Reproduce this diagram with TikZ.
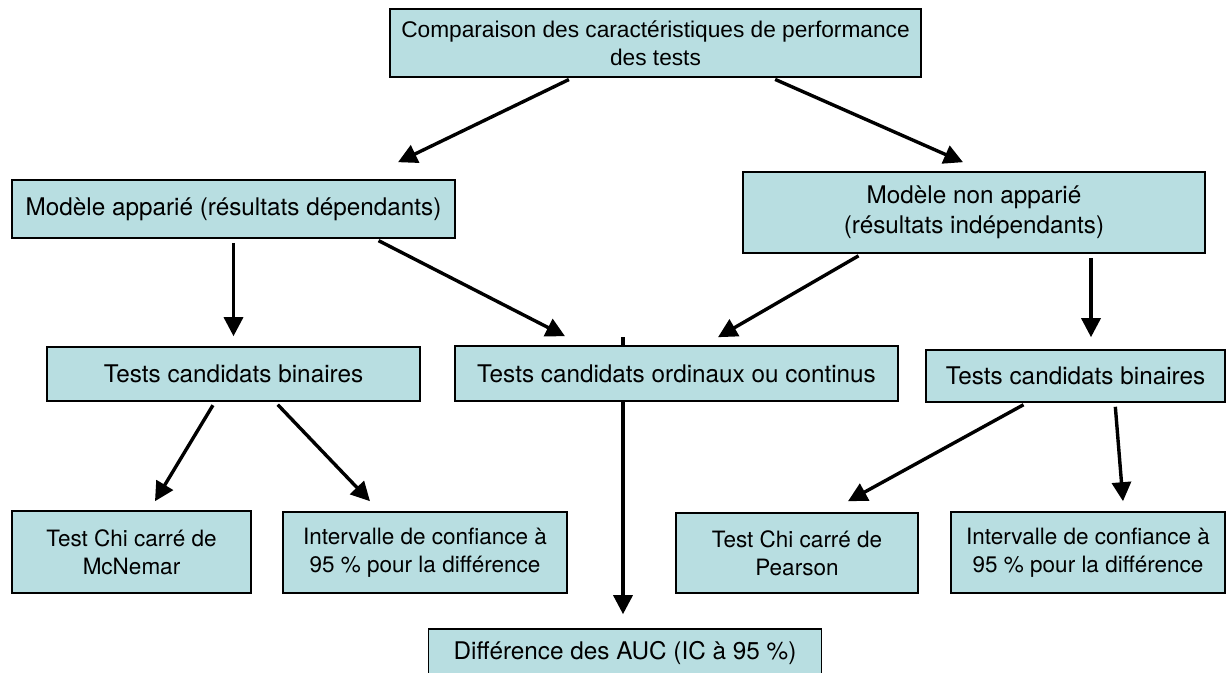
\documentclass[tikz,border=0pt]{standalone}
\usepackage{fontspec}
\setmainfont{Liberation Sans}
\newfontfamily\boxfont{TeX Gyre Heros}
\usepackage[HTML]{xcolor}
\usetikzlibrary{positioning, arrows.meta, backgrounds}
\definecolor{boxfill}{HTML}{B8DEE1}

\begin{document}
\begin{tikzpicture}[x=1pt, y=-1pt,
  box/.style={draw, line width=1.6pt, fill=boxfill, align=center, inner sep=0pt,
    font=\boxfont\fontsize{24.3}{30}\selectfont},
  smallbox/.style={box, font=\boxfont\fontsize{22.5}{28}\selectfont},
  arr/.style={-{Triangle[length=19pt, width=19pt]}, line width=3.4pt, shorten <=4pt}]
\useasboundingbox (0,0) rectangle (1230,672);
\clip (0,0) rectangle (1230,672);

\node[box, font=\fontsize{22.7}{28}\selectfont, minimum width=531pt, minimum height=68pt] (cmp) at (655.5,43)
  {Comparaison des caractéristiques de performance\\des tests};
\node[box, minimum width=443pt, minimum height=58pt] (app) at (233.5,209) {Modèle apparié (résultats dépendants)};
\node[box, minimum width=462pt, minimum height=81pt] (nonapp) at (974,212.5) {Modèle non apparié\\(résultats indépendants)};
\node[box, minimum width=373pt, minimum height=54pt] (binL) at (233.5,374) {Tests candidats binaires};
\node[box, minimum width=443pt, minimum height=55pt] (mid) at (676.5,373.5) {Tests candidats ordinaux ou continus};
\node[box, minimum width=299pt, minimum height=52pt] (binR) at (1075.5,376) {Tests candidats binaires};
\node[smallbox, minimum width=239pt, minimum height=82pt] (mcn) at (131.5,552) {Test Chi carré de\\McNemar};
\node[smallbox, minimum width=284pt, minimum height=81pt] (intL) at (425,552.5) {Intervalle de confiance à\\95 \% pour la différence};
\node[smallbox, minimum width=242pt, minimum height=80pt] (pear) at (797,553) {Test Chi carré de\\Pearson};
\node[smallbox, minimum width=274pt, minimum height=81pt] (intR) at (1088,552.5) {Intervalle de confiance à\\95 \% pour la différence};
\node[box, minimum width=393pt, minimum height=48pt] (auc) at (625,653) {Différence des AUC (IC à 95 \%)};

\draw[arr] ([xshift=-83pt]cmp.south) -- ([xshift=164.5pt, yshift=17pt]app.north);
\draw[arr] ([xshift=116pt]cmp.south) -- ([xshift=-11pt, yshift=9pt]nonapp.north);
\draw[arr] (app.south) -- ([yshift=10pt]binL.north);
\draw[arr] ([xshift=141.5pt]app.south) -- ([xshift=-111.5pt, yshift=9pt]mid.north);
\draw[arr] ([xshift=-112pt]nonapp.south) -- ([xshift=41.5pt, yshift=8pt]mid.north);
\draw[arr] ([xshift=117pt]nonapp.south) -- ([xshift=15.5pt, yshift=12pt]binR.north);
\begin{scope}[on background layer]
\draw[arr, shorten <=0pt] ([xshift=-53.5pt, yshift=8pt]mid.north) -- ([xshift=-2pt, yshift=14pt]auc.north);
\end{scope}
\draw[arr] ([xshift=-18.5pt]binL.south) -- ([xshift=23.5pt, yshift=9pt]mcn.north);
\draw[arr] ([xshift=41.5pt]binL.south) -- ([xshift=-55pt, yshift=10pt]intL.north);
\draw[arr] ([xshift=-48.5pt]binR.south) -- ([xshift=51pt, yshift=11pt]pear.north);
\draw[arr] ([xshift=39.5pt]binR.south) -- ([xshift=35pt, yshift=10pt]intR.north);
\end{tikzpicture}
\end{document}
